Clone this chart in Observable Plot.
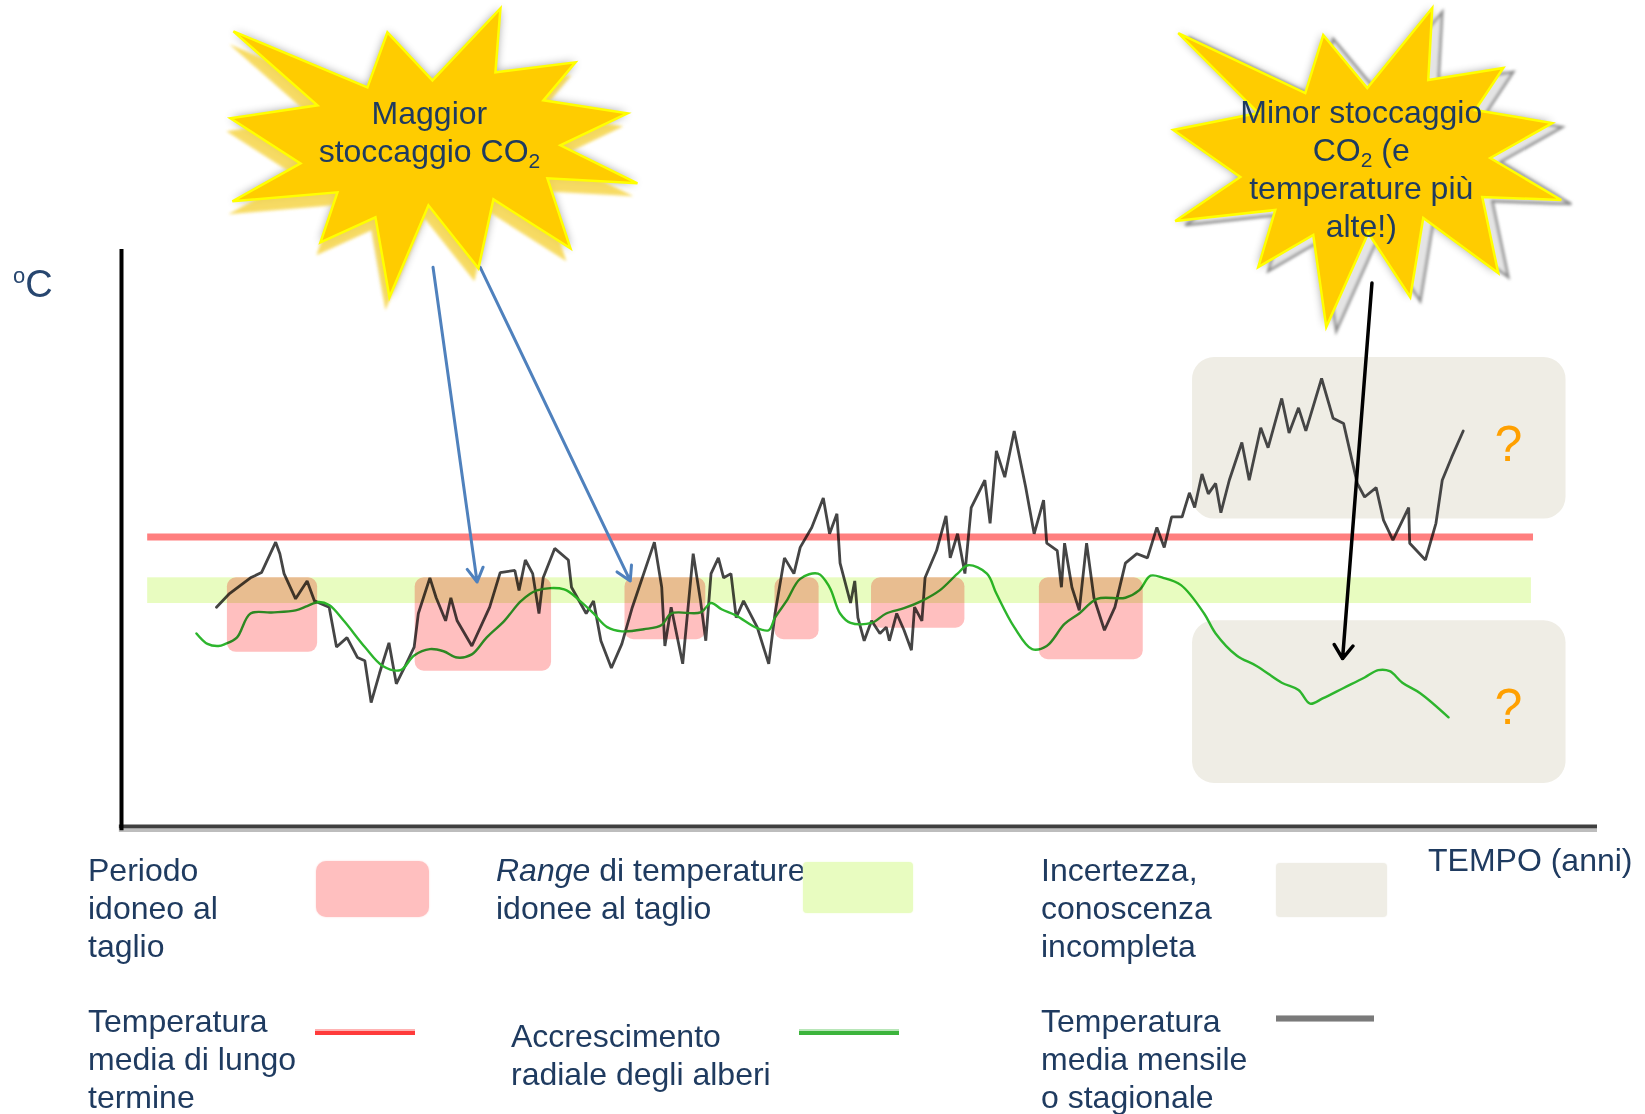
<!DOCTYPE html>
<html>
<head>
<meta charset="utf-8">
<script src="https://cdn.jsdelivr.net/npm/d3@7"></script>
<script src="https://cdn.jsdelivr.net/npm/@observablehq/plot@0.6"></script>
<style>
  body { margin: 0; background: #fff; }
  #pagina { position: relative; width: 1645px; height: 1114px; overflow: hidden;
            font-family: "Liberation Sans", Arial, sans-serif; color: #1f3b60; }
  #legenda { position: relative; width: 1645px; height: 269px; }
  .voce { position: absolute; font-size: 32px; line-height: 38px; white-space: nowrap; }
  .campione { position: absolute; }
</style>
</head>
<body>
<div id="pagina">
  <div id="grafico"></div>
  <div id="legenda">
    <div class="voce" style="left:88px;top:6px">Periodo<br>idoneo al<br>taglio</div>
    <div class="campione" style="left:316px;top:16px;width:113px;height:56px;border-radius:10px;background:#ffbfbf;box-shadow:0 0 2px #ffd6d6"></div>
    <div class="voce" style="left:496px;top:6px"><i>Range</i> di temperature<br>idonee al taglio</div>
    <div class="campione" style="left:803px;top:17px;width:110px;height:51px;border-radius:4px;background:#e8fcc0;box-shadow:0 0 2px #f0fdd8"></div>
    <div class="voce" style="left:1041px;top:6px">Incertezza,<br>conoscenza<br>incompleta</div>
    <div class="campione" style="left:1276px;top:18px;width:111px;height:54px;border-radius:4px;background:#efede5;box-shadow:0 0 2px #f4f3ee"></div>
    <div class="voce" style="left:1428px;top:-4px">TEMPO (anni)</div>

    <div class="voce" style="left:88px;top:157px">Temperatura<br>media di lungo<br>termine</div>
    <div class="campione" style="left:315px;top:184px;width:100px;height:6px;background:linear-gradient(#ffb3b3 0 35%, #ff3b3b 35% 100%)"></div>
    <div class="voce" style="left:511px;top:172px">Accrescimento<br>radiale degli alberi</div>
    <div class="campione" style="left:799px;top:184px;width:100px;height:6px;background:linear-gradient(#b8e6b8 0 35%, #3cb43c 35% 100%)"></div>
    <div class="voce" style="left:1041px;top:157px">Temperatura<br>media mensile<br>o stagionale</div>
    <div class="campione" style="left:1276px;top:170px;width:98px;height:7px;background:linear-gradient(#b5b5b5 0 20%, #7a7a7a 20% 80%, #b5b5b5 80% 100%)"></div>
  </div>
</div>
<script>
// Temperatura media mensile o stagionale (°C) nel tempo (anni)
const tempAnni = [8.96,10.2,12.2,13.25,14.6,15.0,15.4,16.5,17.6,18.3,
  19.7,20.4,21.4,22.4,23.1,23.7,24.5,25.4,26.1,26.9,
  27.8,28.2,29.3,29.9,30.8,31.3,31.9,33.3,35.0,36.0,
  37.4,37.8,38.4,39.1,39.7,40.1,41.2,42.5,42.8,44.2,
  44.9,45.6,46.6,47.6,48.6,50.7,51.4,51.7,52.3,53.4,
  54.4,55.1,55.6,56.1,56.8,57.3,58.0,58.5,59.2,60.5,
  61.6,62.2,63.1,64.0,64.6,65.7,66.8,67.4,68.1,68.4,
  69.4,69.8,70.1,70.7,71.4,72.2,72.8,73.1,73.8,74.5,
  75.2,75.5,76.2,76.5,77.6,78.5,78.9,79.6,80.3,80.9,
  82.2,82.7,83.3,84.1,85.0,86.1,86.9,87.8,88.1,89.1,
  89.5,89.8,90.5,91.2,91.9,92.6,93.6,94.6,95.6,96.7,
  97.7,98.6,99.3,100.0,101.0,101.7,102.2,102.9,103.5,104.2,
  104.7,105.5,106.7,107.4,108.5,109.2,110.5,111.2,112.1,112.8,
  114.3,115.4,116.4,117.7,118.4,119.5,120.2,121.1,122.6,122.7,
  124.2,125.2,125.8,126.7,127.8];
const tempValori = [21.0,22.3,23.8,24.3,27.2,26.1,24.2,21.8,23.5,21.6,
  21.0,17.2,18.1,16.2,15.9,11.9,14.7,17.6,13.7,15.3,
  17.2,20.4,23.8,21.9,19.7,21.9,19.7,17.3,21.0,24.3,
  24.5,22.6,25.5,24.2,20.4,23.8,26.6,25.5,22.9,20.4,
  21.6,17.8,15.2,17.5,21.0,27.2,22.9,17.3,21.0,15.6,
  26.1,21.6,17.8,24.2,25.7,23.8,24.2,20.0,21.6,19.1,
  15.6,20.4,25.7,24.2,26.7,28.6,31.4,28.0,29.9,25.2,
  21.4,23.5,20.0,17.8,19.7,18.5,19.1,17.8,20.4,18.8,
  16.9,21.0,19.7,23.8,26.4,29.7,25.7,28.0,24.2,30.5,
  33.1,29.0,35.9,33.4,37.8,32.4,28.0,31.2,27.1,26.4,
  22.9,27.1,22.9,20.7,27.1,21.9,18.8,21.0,25.2,26.1,
  25.7,28.6,26.7,29.6,29.6,31.9,30.5,33.7,31.8,32.8,
  30.0,33.1,36.7,33.1,38.1,36.2,40.9,37.6,40.0,37.8,
  42.8,39.0,38.5,32.8,31.5,32.4,29.3,27.4,30.5,27.1,
  25.5,29.0,33.1,35.3,37.8];

// Accrescimento radiale degli alberi (stessa scala verticale)
const accrAnni = [7.05,8.1,9.15,9.8,10.9,12.2,14.2,16.5,17.6,18.7,
  19.7,21.1,23.1,24.8,26.5,27.8,29.3,30.6,31.9,33.3,
  34.7,36.4,38.0,39.5,42.1,43.6,44.9,46.2,47.6,49.7,
  51.4,52.3,55.1,56.1,57.1,58.5,60.5,61.6,62.2,63.3,
  64.6,66.3,67.4,68.4,69.4,71.4,72.8,74.5,76.2,77.9,
  79.6,80.6,82.4,83.3,85.0,86.7,88.1,89.8,91.2,92.9,
  95.6,96.9,98.0,99.2,100.9,103.1,104.2,106.2,108.1,110.5,
  112.1,113.2,114.4,116.4,118.4,119.7,120.8,122.0,123.7,126.4];
const accrValori = [18.5,17.5,17.3,17.5,18.1,20.4,20.5,20.7,21.1,21.5,
  21.2,19.7,17.2,15.4,15.0,16.4,17.0,16.8,16.2,16.5,
  18.1,19.7,21.6,22.6,22.7,21.6,20.4,19.1,18.7,18.9,
  19.3,20.4,20.5,21.4,20.8,20.2,19.0,18.8,20.0,21.6,
  23.7,24.2,22.9,20.4,19.5,19.5,20.4,20.9,21.6,22.6,
  24.2,25.0,24.2,22.3,19.1,17.0,17.3,19.4,20.4,21.8,
  21.9,22.6,24.0,23.8,23.1,20.4,18.5,16.4,15.4,13.8,
  13.1,11.8,12.3,13.3,14.3,15.0,14.9,13.8,12.8,10.5];

// Temperatura media di lungo termine e range idoneo al taglio
const mediaLungoTermine = 27.7;
const mediaAnni = [2.4, 134.5];
const rangeTaglio = [21.35, 23.8];
const rangeAnni = [2.4, 134.3];

// Periodi idonei al taglio
const periodiInizio = [10.0, 27.9, 47.9, 62.2, 71.4, 87.4];
const periodiFine   = [18.6, 40.9, 55.6, 66.4, 80.3, 97.3];
const periodiMinimo = [16.7, 14.9, 17.9, 17.9, 19.0, 16.0];

// Zone di incertezza (futuro)
const incertezzaAnni = [102.0, 137.6];
const incertezzaBasso = [29.4, 4.2];
const incertezzaAlto  = [44.8, 19.7];
const domandeAnno = 132.1;
const domandeTemp = [36.5, 11.4];

// Frecce dei richiami
const frecceBlu = [
  {x1: 29.6, y1: 53.4, x2: 33.8, y2: 23.4},
  {x1: 34.1, y1: 53.4, x2: 48.4, y2: 23.5}
];
const frecciaNera = [{x1: 119.1, y1: 51.9, x2: 116.3, y2: 16.1}];

// Richiami a stella: centro (anni, °C) e testo
const richiami = [
  {anno: 29.4, temp: 64.5, righe: [[["Maggior"]], [["stoccaggio CO"], ["2", true]]], ombra: "gialla", dx: -1, dy: -26},
  {anno: 118.7, temp: 63.1, righe: [[["Minor stoccaggio"]], [["CO"], ["2", true], [" (e"]], [["temperature più"]], [["alte!)"]]], ombra: "grigia", dx: -6, dy: -42}
];

// Sagome delle stelle (scarti in pixel dal centro)
const sagome = [
  [[70,-142],[65,-78],[145,-88],[113,-50],[197,-37],[130,-5],[207,33],[117,28],[140,98],[63,49],[48,118],[-2,55],
   [-41,147],[-55,67],[-110,92],[-93,42],[-198,51],[-130,13],[-200,-32],[-113,-45],[-197,-119],[-63,-63],[-43,-118],[2,-70]],
  [[65,-157],[61,-85],[136,-97],[108,-55],[185,-42],[123,-7],[194,35],[115,32],[131,108],[56,53],[43,132],[1,68],
   [-41,162],[-54,70],[-109,102],[-92,45],[-192,56],[-127,12],[-194,-35],[-109,-52],[-189,-132],[-62,-72],[-44,-130],[0,-77]]
];

const serieTemp = tempAnni.map((t, i) => ({t, v: tempValori[i]}));
const serieAccr = accrAnni.map((t, i) => ({t, v: accrValori[i]}));
const periodi = periodiInizio.map((a, i) => ({a, b: periodiFine[i], lo: periodiMinimo[i], hi: rangeTaglio[1]}));
const incertezze = incertezzaBasso.map((lo, i) => ({a: incertezzaAnni[0], b: incertezzaAnni[1], lo, hi: incertezzaAlto[i]}));

const FONT = '"Liberation Sans", Arial, sans-serif';

// Stelle di richiamo ed etichetta dell'asse verticale
function annotazioni(index, {x, y}) {
  const g = d3.create("svg:g");
  const defs = g.append("defs");
  defs.append("filter").attr("id", "alone").attr("x", "-30%").attr("y", "-30%").attr("width", "160%").attr("height", "160%")
    .append("feGaussianBlur").attr("stdDeviation", 5);
  defs.append("filter").attr("id", "sfuma").attr("x", "-30%").attr("y", "-30%").attr("width", "160%").attr("height", "160%")
    .append("feGaussianBlur").attr("stdDeviation", 1.6);

  richiami.forEach((r, k) => {
    const cx = x(r.anno), cy = y(r.temp);
    const punti = sagome[k].map(([dx, dy]) => `${cx + dx},${cy + dy}`).join(" ");
    g.append("polygon").attr("points", punti).attr("fill", "#000").attr("opacity", 0.4).attr("filter", "url(#alone)");
    if (r.ombra === "gialla") {
      g.append("polygon").attr("points", punti).attr("transform", "translate(-4,13)")
        .attr("fill", "#f6d54a").attr("opacity", 0.85).attr("filter", "url(#sfuma)");
    } else {
      g.append("polygon").attr("points", punti).attr("transform", "translate(10,4)")
        .attr("fill", "#e4e4e4").attr("stroke", "#8a8a8a").attr("stroke-width", 2.5).attr("filter", "url(#sfuma)");
    }
    g.append("polygon").attr("points", punti).attr("fill", "#ffcc00")
      .attr("stroke", "#ffff00").attr("stroke-width", 2.5).attr("stroke-linejoin", "miter");
    const testo = g.append("text").attr("text-anchor", "middle").attr("font-family", FONT)
      .attr("font-size", 32).attr("fill", "#1f3b60");
    r.righe.forEach((riga, i) => {
      let primo = true, sotto = false;
      riga.forEach(([s, pedice]) => {
        const ts = testo.append("tspan").text(s);
        if (primo) { ts.attr("x", cx + r.dx).attr("y", cy + r.dy + i * 38); primo = false; }
        if (pedice) { ts.attr("font-size", 21).attr("dy", 6); sotto = true; }
        else if (sotto) { ts.attr("dy", -6); sotto = false; }
      });
    });
  });

  const etichetta = g.append("text").attr("text-anchor", "start").attr("font-family", FONT)
    .attr("fill", "#27466f").attr("x", 13).attr("y", 297);
  etichetta.append("tspan").attr("font-size", 22).attr("dy", -14).text("o");
  etichetta.append("tspan").attr("font-size", 38).attr("dy", 14).text("C");
  return g.node();
}

const grafico = Plot.plot({
  width: 1645,
  height: 845,
  marginLeft: 122,
  marginRight: 48,
  marginTop: 250,
  marginBottom: 18,
  x: {domain: [0, 140.6], axis: null},
  y: {domain: [0, 55], axis: null},
  style: {background: "transparent", fontFamily: FONT, overflow: "visible"},
  marks: [
    Plot.rect(incertezze, {x1: "a", x2: "b", y1: "lo", y2: "hi", fill: "#efede5", rx: 22}),
    Plot.line(serieTemp, {x: "t", y: "v", stroke: "#454545", strokeWidth: 2.8, strokeLinejoin: "miter"}),
    Plot.line(serieAccr, {x: "t", y: "v", stroke: "#2db52d", strokeWidth: 2.4, curve: "catmull-rom"}),
    Plot.rect(periodi, {x1: "a", x2: "b", y1: "lo", y2: "hi", fill: "#ffbfbf", rx: 9, ariaDescription: "fusione", mixBlendMode: "multiply"}),
    Plot.rect([rangeTaglio], {x1: rangeAnni[0], x2: rangeAnni[1], y1: d => d[0], y2: d => d[1], fill: "#e8fcc0", ariaDescription: "fusione", mixBlendMode: "multiply"}),
    Plot.ruleY([mediaLungoTermine], {x1: mediaAnni[0], x2: mediaAnni[1], stroke: "#ff7f7f", strokeWidth: 7, ariaDescription: "fusione", mixBlendMode: "multiply"}),
    Plot.text(domandeTemp, {x: () => domandeAnno, y: d => d, text: () => "?", fill: "#ffa000", fontSize: 50, fontFamily: FONT}),
    Plot.arrow(frecceBlu, {x1: "x1", y1: "y1", x2: "x2", y2: "y2", stroke: "#4f81bd", strokeWidth: 3, headLength: 8}),
    Plot.arrow(frecciaNera, {x1: "x1", y1: "y1", x2: "x2", y2: "y2", stroke: "#000", strokeWidth: 3.5, headLength: 7, headAngle: 70}),
    Plot.ruleY([0], {x1: -0.3, x2: 140.6, stroke: "#bdbdbd", strokeWidth: 3, dy: 3}),
    Plot.ruleY([0], {x1: -0.3, x2: 140.6, stroke: "#3f3f3f", strokeWidth: 4, dy: -1}),
    Plot.ruleX([0], {y1: -0.3, y2: 55.1, stroke: "#000", strokeWidth: 4, dx: -1}),
    annotazioni
  ]
});

grafico.querySelectorAll('[aria-description="fusione"]').forEach(el => { el.style.mixBlendMode = "multiply"; });
document.getElementById("grafico").appendChild(grafico);
</script>
</body>
</html>
